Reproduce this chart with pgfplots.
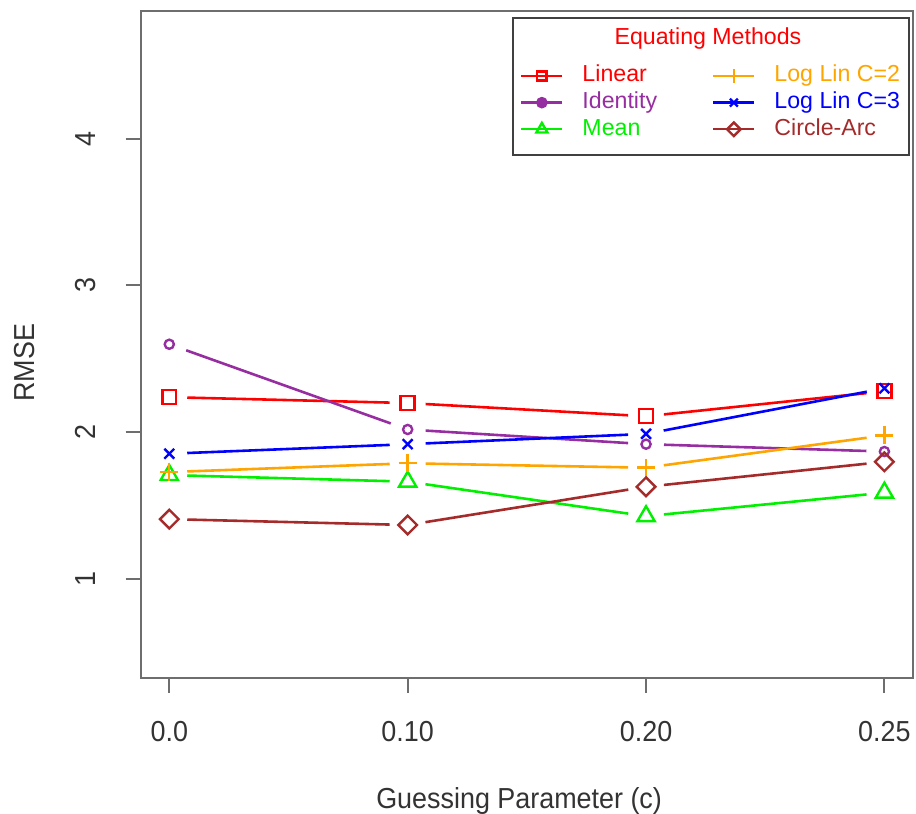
\documentclass[border=0pt]{standalone}
\usepackage{fontspec}
\setmainfont{Liberation Sans}
\newfontfamily\axfont{Liberation Sans}[FakeStretch=0.93]
\usepackage{pgfplots}
\pgfplotsset{compat=1.18}

\definecolor{cRed}{RGB}{255,0,0}
\definecolor{cPurple}{RGB}{150,45,160}
\definecolor{cGreen}{RGB}{0,240,0}
\definecolor{cOrange}{RGB}{255,165,0}
\definecolor{cBlue}{RGB}{0,0,255}
\definecolor{cBrown}{RGB}{165,42,42}
\definecolor{frame}{RGB}{110,110,110}

% R type="b": each segment stops short of its two points
\pgfplotsset{
  ln/.style={line width=1.3pt, no markers, forget plot, shorten <=9pt, shorten >=9pt},
  pt/.style={only marks, line width=1.2pt, forget plot},
}
\newcommand\seg[3]{\addplot[ln, #1] coordinates {#2 #3};}

\pgfplotstableread{
x  linear identity mean  ll2   ll3   arc
0  2.24   2.60     1.71  1.73  1.855 1.41
1  2.20   2.02     1.665 1.79  1.92  1.37
2  2.11   1.92     1.43  1.76  1.99  1.63
3  2.28   1.87     1.59  1.98  2.30  1.80
}\rmse

\begin{document}
\begin{tikzpicture}
\begin{axis}[
  scale only axis, width=387pt, height=334pt,
  xmin=-0.12, xmax=3.12, ymin=0.332, ymax=4.868,
  xtick={0,1,2,3}, xticklabels={0.0,0.10,0.20,0.25},
  ytick={1,2,3,4},
  tick align=outside, major tick length=7.5pt,
  xtick pos=bottom, ytick pos=left,
  axis line style={frame, line width=1pt},
  every tick/.style={frame, line width=1pt},
  /pgf/number format/assume math mode=true,
  ticklabel style={font=\axfont\fontsize{14.5}{17}\selectfont, text=black!80},
  xticklabel style={anchor=center, yshift=-19.5pt},
  yticklabel style={rotate=90, anchor=center, yshift=20pt},
  label style={font=\axfont\fontsize{14.5}{17}\selectfont, text=black!80},
  xlabel={Guessing Parameter (c)},
  ylabel={RMSE},
  xlabel style={at={(axis description cs:0.49,-0.185)}, anchor=center},
  ylabel style={at={(axis description cs:-0.15,0.472)}, anchor=center},
  legend image code/.code={\draw[mark repeat=2, mark phase=2, #1]
    plot coordinates {(0pt,0pt) (10.25pt,0pt) (20.5pt,0pt)};},
  legend columns=2,
  legend style={at={(axis description cs:0.4909,0.9192)}, anchor=north west,
    draw=none, fill=none, inner sep=0pt,
    font=\fontsize{11.6}{13}\selectfont,
    nodes={inner sep=0pt, text height=8.4pt, text depth=2.4pt},
    row sep=2.55pt,
    /tikz/every odd column/.append style={column sep=9.5pt}},
  legend cell align=left,
]
% line segments (same values as the table)
\seg{cRed}{(0,2.24)}{(1,2.20)}   \seg{cRed}{(1,2.20)}{(2,2.11)}   \seg{cRed}{(2,2.11)}{(3,2.28)}
\seg{cPurple}{(0,2.60)}{(1,2.02)} \seg{cPurple}{(1,2.02)}{(2,1.92)} \seg{cPurple}{(2,1.92)}{(3,1.87)}
\seg{cGreen}{(0,1.71)}{(1,1.665)} \seg{cGreen}{(1,1.665)}{(2,1.43)} \seg{cGreen}{(2,1.43)}{(3,1.59)}
\seg{cOrange}{(0,1.73)}{(1,1.79)} \seg{cOrange}{(1,1.79)}{(2,1.76)} \seg{cOrange}{(2,1.76)}{(3,1.98)}
\seg{cBlue}{(0,1.855)}{(1,1.92)}  \seg{cBlue}{(1,1.92)}{(2,1.99)}  \seg{cBlue}{(2,1.99)}{(3,2.30)}
\seg{cBrown}{(0,1.41)}{(1,1.37)}  \seg{cBrown}{(1,1.37)}{(2,1.63)}  \seg{cBrown}{(2,1.63)}{(3,1.80)}
% points
\addplot[pt, cRed, mark=square, mark size=3.5pt] table[x=x, y=linear] {\rmse};
\addplot[pt, cPurple, mark=o, mark size=2.3pt] table[x=x, y=identity] {\rmse};
\addplot[pt, cGreen, mark=triangle, mark size=5pt] table[x=x, y=mean] {\rmse};
\addplot[pt, cOrange, mark=+, mark size=4.5pt] table[x=x, y=ll2] {\rmse};
\addplot[pt, cBlue, mark=x, mark size=3.5pt] table[x=x, y=ll3] {\rmse};
\addplot[pt, cBrown, mark=square, mark options={rotate=45}, mark size=3.3pt] table[x=x, y=arc] {\rmse};

% legend, filled column by column as in the reference
\addlegendimage{cRed, line width=1.2pt, mark=square, mark size=2.3pt}
\addlegendentry{\makebox[65pt][l]{\textcolor{cRed}{Linear}}}
\addlegendimage{cOrange, line width=1.2pt, mark=+, mark size=3.3pt}
\addlegendentry{\textcolor{cOrange}{Log Lin C=2}}
\addlegendimage{cPurple, line width=1.2pt, mark=*, mark size=2.3pt}
\addlegendentry{\makebox[65pt][l]{\textcolor{cPurple}{Identity}}}
\addlegendimage{cBlue, line width=1.2pt, mark=x, mark size=2.8pt}
\addlegendentry{\textcolor{cBlue}{Log Lin C=3}}
\addlegendimage{cGreen, line width=1.2pt, mark=triangle, mark size=3.2pt}
\addlegendentry{\makebox[65pt][l]{\textcolor{cGreen}{Mean}}}
\addlegendimage{cBrown, line width=1.2pt, mark=square, mark options={rotate=45}, mark size=2.4pt}
\addlegendentry{\textcolor{cBrown}{Circle-Arc}}

% legend frame and title
\draw[black!75, line width=1pt] (axis description cs:0.4819,0.7844) rectangle (axis description cs:0.9948,0.9895);
\node[anchor=base, text=cRed, font=\fontsize{11.6}{13}\selectfont] at (axis description cs:0.7345,0.949) {Equating Methods};
\end{axis}
\pgfresetboundingbox
\path ([shift={(-70.5pt,-68pt)}]current axis.south west) rectangle ([shift={(1.5pt,5.5pt)}]current axis.north east);
\end{tikzpicture}
\end{document}
